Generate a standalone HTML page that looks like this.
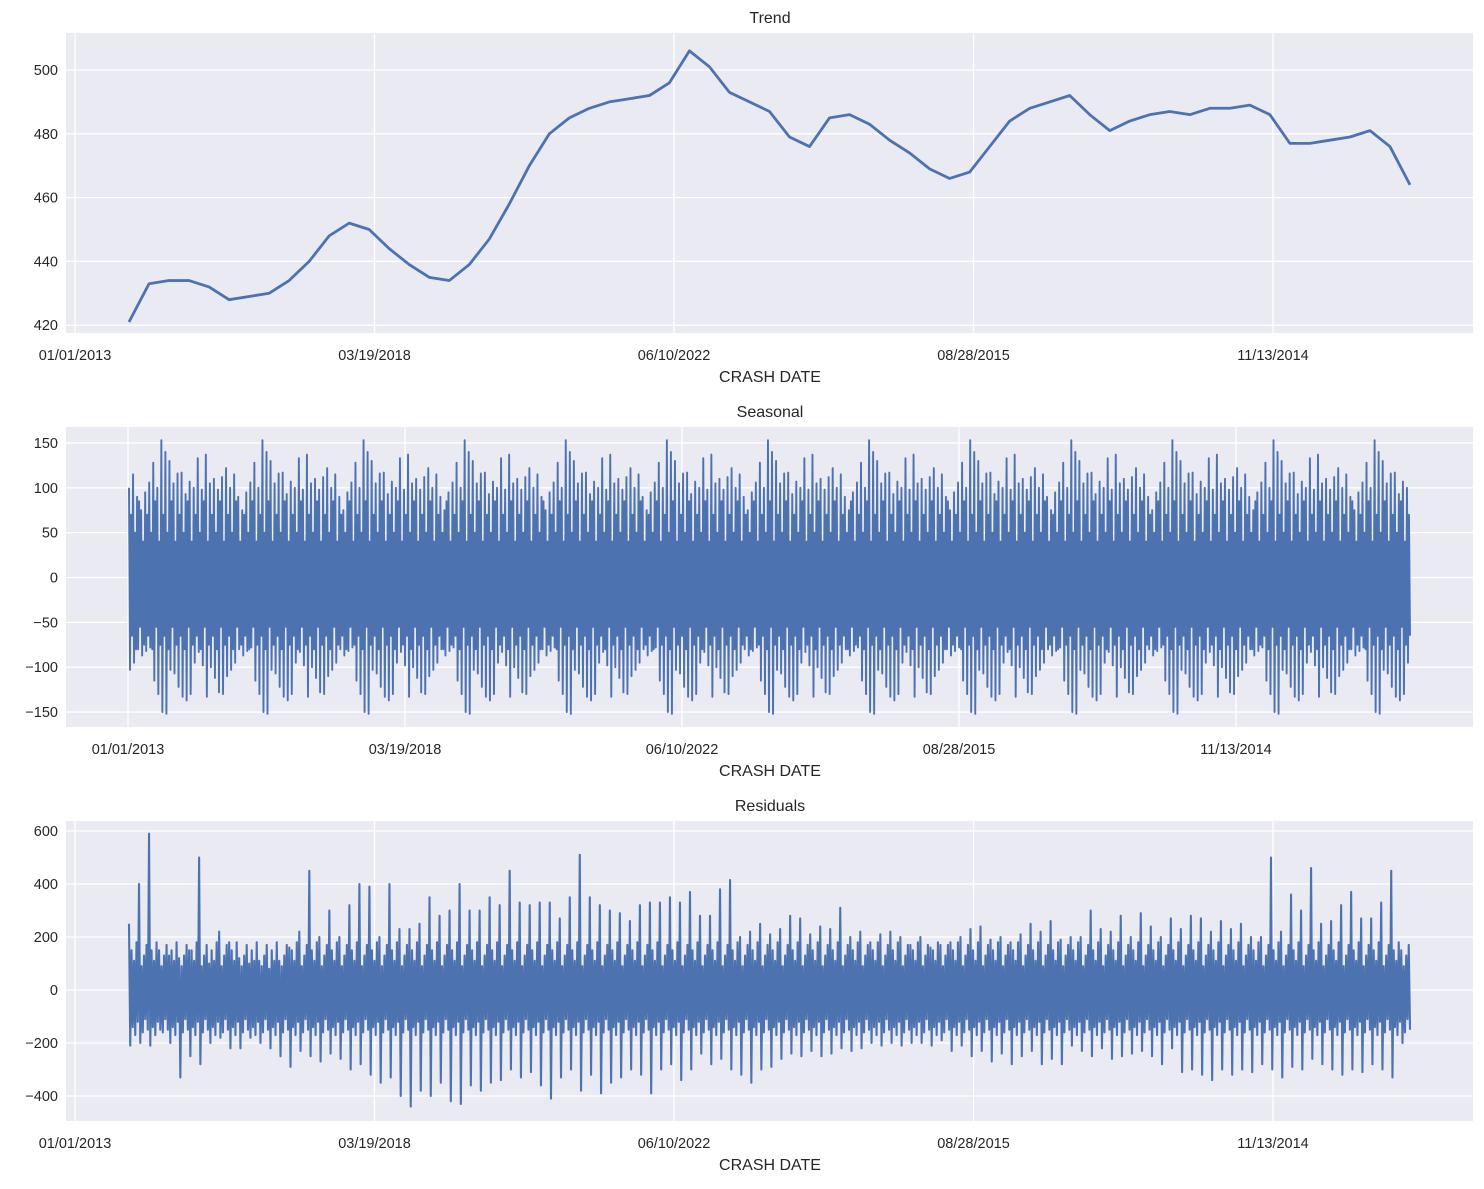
<!DOCTYPE html>
<html><head><meta charset="utf-8"><style>
body{margin:0;background:#fff}
svg text{font-family:"Liberation Sans","DejaVu Sans",sans-serif;fill:#262626}
</style></head><body>
<svg id="c" width="1484" height="1184" xmlns="http://www.w3.org/2000/svg"></svg>
<script>
const xTickLabels=["01/01/2013","03/19/2018","06/10/2022","08/28/2015","11/13/2014"];
const trendValues=[421,433,434,434,432,428,429,430,434,440,448,452,450,444,439,435,434,439,447,458,470,480,485,488,490,491,492,496,506,501,493,490,487,479,476,485,486,483,478,474,469,466,468,476,484,488,490,492,486,481,484,486,487,486,488,488,489,486,477,477,478,479,481,476,464];
const trendTicks=[420,440,460,480,500];
const seasonalHighs=[100,115,90,75,95,106,128,100,153,140,130,105,116,117,93,107,100,133,98,137,105,110,98,112,122];
const seasonalLows=[-103,-95,-80,-87,-82,-78,-115,-130,-150,-152,-103,-107,-122,-133,-137,-130,-95,-83,-98,-133,-100,-112,-128,-130,-110];
const seasonalInner=[70,-65,50,-80,85,-55,40,-75];
const seasonalCount=634;
const seasonalTicks=[-150,-100,-50,0,50,100,150];
const residHighs=[250,400,590,150,130,120,150,500,100,220,180,120,100,110,80,110,160,220,450,200,300,200,320,400,390,200,400,230,230,250,350,280,300,400,300,300,350,320,450,330,320,330,330,270,350,510,350,320,300,290,260,320,330,330,350,330,370,280,280,380,415,200,220,250,210,230,280,270,210,240,230,310,200,220,180,210,220,200,170,200,160,170,180,200,230,240,190,200,180,210,250,220,260,190,200,200,300,230,220,280,200,290,240,200,270,230,280,270,220,260,230,250,200,200,500,220,360,300,460,250,260,320,370,270,270,330,450,150];
const residLows=[-210,-200,-210,-150,-200,-330,-250,-280,-200,-180,-220,-220,-180,-200,-220,-250,-290,-230,-250,-270,-240,-260,-300,-280,-320,-350,-330,-400,-440,-380,-400,-350,-420,-430,-360,-380,-350,-340,-300,-330,-310,-360,-410,-330,-300,-380,-320,-390,-350,-330,-300,-320,-390,-300,-280,-340,-300,-240,-280,-260,-300,-320,-350,-300,-290,-260,-240,-250,-230,-250,-240,-220,-230,-220,-200,-210,-200,-210,-200,-200,-210,-190,-230,-210,-250,-230,-270,-240,-280,-250,-230,-280,-260,-280,-210,-230,-250,-220,-260,-250,-240,-230,-250,-280,-220,-310,-300,-320,-340,-300,-320,-300,-310,-280,-300,-330,-290,-300,-260,-280,-300,-320,-300,-310,-280,-300,-330,-200];
const residInner=[150,-140,110,-170,180,-120,90,-160,130,-110,170,-150];
const residTicks=[-400,-200,0,200,400,600];

const NS="http://www.w3.org/2000/svg";
const svg=document.getElementById('c');
function mk(t,a,p){const e=document.createElementNS(NS,t);for(const k in a)e.setAttribute(k,a[k]);(p||svg).appendChild(e);return e;}
const L=66,R=1473,X0=129,X1=1410;
function panel(top,bottom,title,tick0,tickStep,yFn,ticks,name){
  const g=mk('g',{});
  
  
  const bg=mk('rect',{x:L,y:top,width:R-L,height:bottom-top,fill:'#eaeaf2'},g);
  
  
  ticks.forEach(v=>{const y=yFn(v);
    const gl=mk('line',{x1:L,x2:R,y1:y,y2:y,stroke:'#fff','stroke-width':1.3},g);
    
    
    const t=mk('text',{x:58,y:y+5,'text-anchor':'end','font-size':14.5},g);t.textContent=(v<0?'\u2212'+(-v):v);
    
    
  });
  xTickLabels.forEach((s,i)=>{const x=tick0+tickStep*i;
    const gl=mk('line',{x1:x,x2:x,y1:top,y2:bottom,stroke:'#fff','stroke-width':1.3},g);
    
    
    const t=mk('text',{x:x,y:bottom+27,'text-anchor':'middle','font-size':14.5},g);t.textContent=s;
    
    
  });
  const tt=mk('text',{x:770,y:top-10,'text-anchor':'middle','font-size':16},g);tt.textContent=title;
  
  
  const xl=mk('text',{x:770,y:bottom+49,'text-anchor':'middle','font-size':16},g);xl.textContent='CRASH DATE';
  
  
  return g;
}
function line(g,vals,yFn,name,w){
  const n=vals.length;let d='';
  vals.forEach((v,i)=>{const x=X0+(X1-X0)*i/(n-1);d+=(i?'L':'M')+x.toFixed(2)+','+yFn(v).toFixed(2);});
  const p=mk('path',{d:d,fill:'none',stroke:'#4c72b0','stroke-width':w,'stroke-linejoin':'round'},g);
  
  
}
// Trend
const yT=v=>70+(500-v)*3.19;
const g1=panel(33,333,'Trend',75,299.5,yT,trendTicks,'trend');
line(g1,trendValues,yT,'trend-line',2.8);
// Seasonal
const yS=v=>577.5-v*0.897;
const g2=panel(427,727,'Seasonal',128,277,yS,seasonalTicks,'seasonal');
const sv=[];const per=seasonalHighs.length;let si=0;
for(let i=0;i<seasonalCount/2;i++){const k=i%per;
  sv.push(seasonalHighs[k]);sv.push(seasonalLows[k]);
  sv.push(seasonalInner[si++%seasonalInner.length]);sv.push(seasonalInner[si++%seasonalInner.length]);}
line(g2,sv,yS,'seasonal-line',1.9);
// Residuals
const yR=v=>990-v*0.265;
const g3=panel(821,1121,'Residuals',75,299.5,yR,residTicks,'residuals');
const rv=[];let ri=0;
residHighs.forEach((h,i)=>{rv.push(h);rv.push(residLows[i]);
  for(let j=0;j<6;j++)rv.push(residInner[ri++%residInner.length]);});
line(g3,rv,yR,'residuals-line',2.1);
</script>
</body></html>
